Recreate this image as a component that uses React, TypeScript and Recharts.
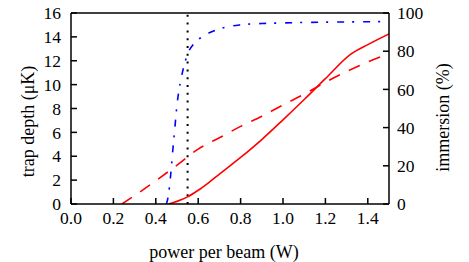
import React from 'react';
import { LineChart, Line, XAxis, YAxis, ReferenceLine } from 'recharts';

const xTicks = [0, 0.2, 0.4, 0.6, 0.8, 1.0, 1.2, 1.4];
const leftTicks = [0, 2, 4, 6, 8, 10, 12, 14, 16];
const rightTicks = [0, 20, 40, 60, 80, 100];

const solidX = [0.46, 0.5, 0.55, 0.6, 0.65, 0.7, 0.8, 0.9, 1.0, 1.1, 1.2, 1.32, 1.4, 1.5];
const solidY = [0, 0.22, 0.6, 1.15, 1.8, 2.5, 3.9, 5.4, 7.05, 8.75, 10.5, 12.55, 13.35, 14.25];

const dashedX = [0.24, 0.3, 0.4, 0.5, 0.6, 0.65, 0.7, 0.8, 0.9, 1.0, 1.1, 1.2, 1.3, 1.4, 1.5];
const dashedY = [0, 0.7, 1.95, 3.25, 4.6, 5.1, 5.55, 6.5, 7.35, 8.3, 9.2, 10.2, 11.1, 11.9, 12.6];

const immX = [0.45, 0.46, 0.47, 0.48, 0.49, 0.5, 0.51, 0.52, 0.53, 0.55, 0.58, 0.6, 0.65, 0.7, 0.8, 0.9, 1.0, 1.2, 1.5];
const immY = [0, 5, 15, 28, 40, 52, 60, 66, 71, 78.5, 84, 86, 89.5, 91.7, 93.8, 94.5, 94.8, 95.2, 95.5];

const markerX = 0.55;

const zip = (xs: number[], ys: number[]) => xs.map((x, i) => ({ x, y: ys[i] }));
const solidData = zip(solidX, solidY);
const dashedData = zip(dashedX, dashedY);
const immData = zip(immX, immY);

const FONT = "'Liberation Serif', 'Times New Roman', serif";
const tickStyle = { fontFamily: FONT, fontSize: 17.5, fill: '#000' };
const labelStyle = { fontFamily: FONT, fontSize: 18, fill: '#000' };
const axisLine = { stroke: '#000', strokeWidth: 1.5 };
const tickLine = { stroke: '#000', strokeWidth: 1.5 };

export default function App() {
  return (
    <div style={{ marginTop: -8 }}>
      <LineChart
        width={453}
        height={262}
        margin={{ top: 8, right: 0, bottom: 0, left: 0 }}
        style={{ fontFamily: FONT }}
      >
        <XAxis
          xAxisId={0}
          type="number"
          dataKey="x"
          domain={[0, 1.5]}
          ticks={xTicks}
          interval={0}
          tickFormatter={(v: number) => v.toFixed(1)}
          height={58}
          tickSize={-6}
          tickMargin={14}
          tick={tickStyle}
          axisLine={axisLine}
          tickLine={tickLine}
          allowDataOverflow
          label={{
            value: 'power per beam (W)',
            position: 'insideBottom',
            offset: 4,
            dx: -6,
            style: labelStyle,
          }}
        />
        <XAxis
          xAxisId="top"
          orientation="top"
          type="number"
          dataKey="x"
          domain={[0, 1.5]}
          ticks={xTicks}
          interval={0}
          height={5}
          tickSize={-6}
          tick={false}
          axisLine={axisLine}
          tickLine={tickLine}
          allowDataOverflow
        />
        <YAxis
          yAxisId="left"
          type="number"
          domain={[0, 16]}
          ticks={leftTicks}
          interval={0}
          width={63}
          tickSize={-6}
          tickMargin={16}
          tick={tickStyle}
          axisLine={axisLine}
          tickLine={tickLine}
          allowDataOverflow
          label={{
            value: 'trap depth (μK)',
            angle: -90,
            position: 'center',
            dx: -12,
            dy: 13,
            style: { ...labelStyle, textAnchor: 'middle' },
          }}
        />
        <YAxis
          yAxisId="right"
          orientation="right"
          type="number"
          domain={[0, 100]}
          ticks={rightTicks}
          interval={0}
          width={72}
          tickSize={-6}
          tickMargin={14}
          tick={tickStyle}
          axisLine={axisLine}
          tickLine={tickLine}
          allowDataOverflow
          label={{
            value: 'immersion (%)',
            angle: -90,
            position: 'center',
            dx: 18,
            dy: 9,
            style: { ...labelStyle, textAnchor: 'middle' },
          }}
        />
        <ReferenceLine
          x={markerX}
          yAxisId="left"
          stroke="#000"
          strokeWidth={2}
          strokeDasharray="2 5.8"
        />
        <Line
          data={dashedData}
          dataKey="y"
          yAxisId="left"
          type="monotone"
          stroke="#ff0000"
          strokeWidth={1.6}
          strokeDasharray="12 10"
          dot={false}
          isAnimationActive={false}
        />
        <Line
          data={solidData}
          dataKey="y"
          yAxisId="left"
          type="monotone"
          stroke="#ff0000"
          strokeWidth={1.6}
          dot={false}
          isAnimationActive={false}
        />
        <Line
          data={immData}
          dataKey="y"
          yAxisId="right"
          type="monotone"
          stroke="#0000ff"
          strokeWidth={1.6}
          strokeDasharray="7 8 2 9"
          dot={false}
          isAnimationActive={false}
        />
      </LineChart>
    </div>
  );
}
